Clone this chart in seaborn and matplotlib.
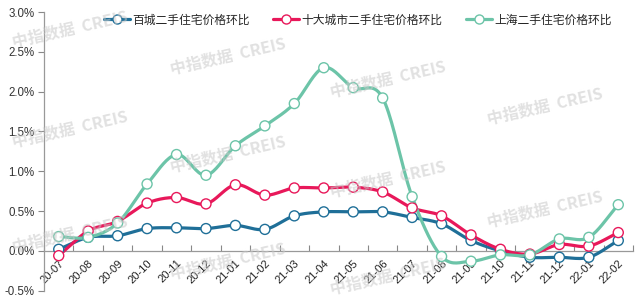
import numpy as np
import pandas as pd
import matplotlib
matplotlib.use("Agg")
import matplotlib.pyplot as plt
from matplotlib.lines import Line2D
import seaborn as sns

months = ["20-07", "20-08", "20-09", "20-10", "20-11", "20-12",
          "21-01", "21-02", "21-03", "21-04", "21-05", "21-06",
          "21-07", "21-08", "21-09", "21-10", "21-11", "21-12",
          "22-01", "22-02"]
hundred_cities = [0.02, 0.17, 0.19, 0.28, 0.29, 0.28, 0.32, 0.27, 0.44, 0.49,
                  0.49, 0.49, 0.42, 0.34, 0.13, 0.00, -0.08, -0.08, -0.08, 0.13]
top10_cities = [-0.06, 0.25, 0.37, 0.60, 0.67, 0.59, 0.83, 0.70, 0.79, 0.79,
                0.80, 0.74, 0.54, 0.44, 0.20, 0.02, -0.04, 0.08, 0.06, 0.23]
shanghai = [0.18, 0.17, 0.35, 0.84, 1.21, 0.95, 1.32, 1.57, 1.85, 2.30,
            2.05, 1.92, 0.68, -0.07, -0.13, -0.05, -0.05, 0.15, 0.17, 0.58]
series_names = ["百城二手住宅价格环比", "十大城市二手住宅价格环比", "上海二手住宅价格环比"]
y_ticks = [-0.5, 0.0, 0.5, 1.0, 1.5, 2.0, 2.5, 3.0]

colors = {series_names[0]: "#1f6f98",
          series_names[1]: "#e8185a",
          series_names[2]: "#6cc4a8"}


def catmull_rom(xs, ys, n=20):
    xs = np.asarray(xs, float)
    ys = np.asarray(ys, float)
    px = np.concatenate([[2 * xs[0] - xs[1]], xs, [2 * xs[-1] - xs[-2]]])
    py = np.concatenate([[2 * ys[0] - ys[1]], ys, [2 * ys[-1] - ys[-2]]])
    outx, outy = [], []
    t = np.linspace(0, 1, n, endpoint=False)
    for i in range(1, len(px) - 2):
        for arr, out in ((px, outx), (py, outy)):
            p0, p1, p2, p3 = arr[i - 1], arr[i], arr[i + 1], arr[i + 2]
            m1 = (p2 - p0) / 2
            m2 = (p3 - p1) / 2
            h00 = 2 * t**3 - 3 * t**2 + 1
            h10 = t**3 - 2 * t**2 + t
            h01 = -2 * t**3 + 3 * t**2
            h11 = t**3 - t**2
            out.extend(h00 * p1 + h10 * m1 + h01 * p2 + h11 * m2)
    outx.append(xs[-1])
    outy.append(ys[-1])
    return np.array(outx), np.array(outy)


pts = []
curves = []
for name, vals in zip(series_names, [hundred_cities, top10_cities, shanghai]):
    x = np.arange(len(months))
    pts.append(pd.DataFrame({"x": x, "y": vals, "series": name}))
    cx, cy = catmull_rom(x, vals)
    curves.append(pd.DataFrame({"x": cx, "y": cy, "series": name}))
pts = pd.concat(pts, ignore_index=True)
curves = pd.concat(curves, ignore_index=True)

sns.set_theme(style="white")
plt.rcParams["font.family"] = ["Liberation Sans", "Noto Sans CJK SC", "DejaVu Sans"]

fig = plt.figure(figsize=(6.4, 2.97), dpi=100)
ax = fig.add_axes([44 / 640, 1 - 290.7 / 297, 589 / 640, (290.7 - 12) / 297])

# watermarks
wm_pos = [(70, 30), (70, 130), (70, 235), (228, 57), (228, 155), (228, 262),
          (388, 80), (388, 180), (388, 277), (545, 107), (545, 210)]
for (px_, py_) in wm_pos:
    fig.text(px_ / 640, 1 - py_ / 297, "中指数据  CREIS", rotation=13,
             ha="center", va="center", fontsize=11.5, fontweight="bold",
             color="#c8c8c8", alpha=0.55, zorder=10,
             family=["Noto Sans CJK SC", "DejaVu Sans"])

sns.lineplot(data=curves, x="x", y="y", hue="series", palette=colors,
             sort=False, estimator=None, linewidth=2.3, legend=False, ax=ax,
             zorder=3)
sns.scatterplot(data=pts, x="x", y="y", hue="series", palette=colors,
                s=52, legend=False, ax=ax, zorder=4)
for coll in ax.collections:
    fc = coll.get_facecolors()
    coll.set_edgecolors(fc)
    coll.set_facecolors("white")
    coll.set_linewidth(1.0)

# spines first (set_position resets ticks)
for s in ["top", "right"]:
    ax.spines[s].set_visible(False)
ax.spines["bottom"].set_position(("data", 0))
ax.spines["bottom"].set_color("#999999")
ax.spines["left"].set_color("#999999")
ax.spines["bottom"].set_linewidth(0.9)
ax.spines["left"].set_linewidth(0.9)

ax.set_xlim(-0.5, len(months) - 0.5)
ax.set_ylim(-0.5, 3.0)
ax.set_xlabel("")
ax.set_ylabel("")

ax.set_yticks(y_ticks)
ax.set_yticklabels([f"{v:.1f}%" for v in y_ticks])
ax.tick_params(axis="y", direction="out", length=4, width=0.8, color="#888888",
               left=True, pad=3, labelsize=8.3, labelcolor="#333333")

ax.set_xticks(np.arange(len(months)))
ax.set_xticks(np.arange(len(months) + 1) - 0.5, minor=True)
ax.tick_params(axis="x", which="major", length=0, pad=5, labelsize=8,
               labelcolor="#222222")
ax.tick_params(axis="x", which="minor", direction="in", length=4, width=0.8,
               color="#888888", bottom=True)
ax.set_xticklabels(months)
plt.setp(ax.get_xticklabels(), rotation=45, ha="right", va="top",
         rotation_mode="anchor")

handles = [Line2D([0], [0], color=colors[n], lw=2.3, marker="o",
                  markerfacecolor="white", markeredgecolor=colors[n],
                  markersize=6.5, markeredgewidth=1.0) for n in series_names]
leg = fig.legend(handles, series_names, loc="center", ncol=3,
                 bbox_to_anchor=(358 / 640, 1 - 20 / 297), frameon=False,
                 handlelength=2.2, handletextpad=0.2, columnspacing=2.0,
                 prop={"family": ["Noto Sans CJK SC", "DejaVu Sans"], "size": 8.5})

fig.savefig("out.png", dpi=100)
